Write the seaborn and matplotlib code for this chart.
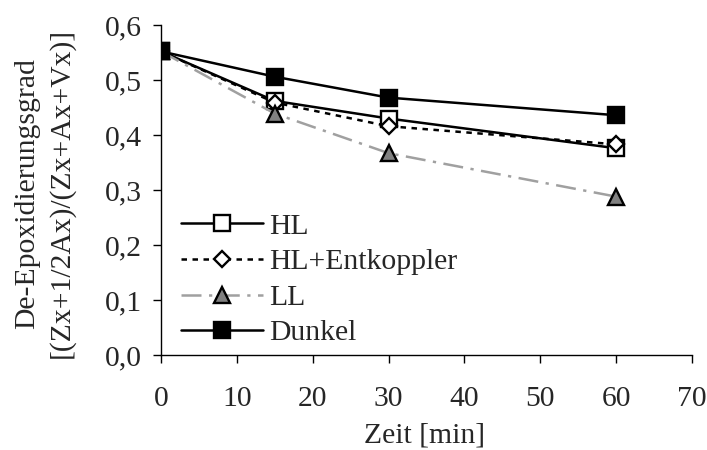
import pandas as pd
import matplotlib.pyplot as plt
import seaborn as sns

# Data
zeit = [0, 15, 30, 60]
hl = [0.552, 0.462, 0.430, 0.376]
hl_entkoppler = [0.552, 0.459, 0.416, 0.383]
ll = [0.552, 0.439, 0.367, 0.288]
dunkel = [0.552, 0.506, 0.468, 0.436]

series_names = ['HL', 'HL+Entkoppler', 'LL', 'Dunkel']
y_ticks = [0.0, 0.1, 0.2, 0.3, 0.4, 0.5, 0.6]
x_ticks = [0, 10, 20, 30, 40, 50, 60, 70]

styles = {
    'HL': dict(color='black', linestyle='-', marker='s',
               markerfacecolor='white', markeredgecolor='black'),
    'HL+Entkoppler': dict(color='black', linestyle=(0, (2.2, 2.2)), marker='D',
                          markerfacecolor='white', markeredgecolor='black',
                          markersize=8.5),
    'LL': dict(color='#a0a0a0', linestyle=(0, (8, 3, 1.3, 3)), marker='^',
               markerfacecolor='#808080', markeredgecolor='black',
               markersize=12),
    'Dunkel': dict(color='black', linestyle='-', marker='s',
                   markerfacecolor='black', markeredgecolor='black'),
}

df = pd.DataFrame({
    'Zeit': zeit * 4,
    'Wert': hl + hl_entkoppler + ll + dunkel,
    'Serie': [n for n in series_names for _ in zeit],
})

sns.set_style('white')
plt.rcParams['font.family'] = ['Liberation Serif', 'DejaVu Serif']
FS = 21.3

fig = plt.figure(figsize=(7.07, 4.5), dpi=100)
ax = fig.add_axes([0.2277, 0.2111, 0.751, 0.7333])

for name in series_names:
    sub = df[df['Serie'] == name]
    kw = dict(styles[name])
    kw.setdefault('markersize', 11)
    sns.lineplot(data=sub, x='Zeit', y='Wert', ax=ax, label=name,
                 linewidth=1.8, markeredgewidth=1.7, **kw)

ax.set_xlim(0, 70)
ax.set_ylim(0, 0.6)
ax.set_xticks(x_ticks)
ax.set_yticks(y_ticks)
ax.set_yticklabels([f'{v:.1f}'.replace('.', ',') for v in y_ticks])
ax.tick_params(axis='both', direction='out', length=6, width=1,
               labelsize=FS, color='black', left=True, bottom=True)
ax.tick_params(axis='x', pad=16)
ax.tick_params(axis='y', pad=8)

for side in ['top', 'right']:
    ax.spines[side].set_visible(False)
for side in ['left', 'bottom']:
    ax.spines[side].set_color('black')
    ax.spines[side].set_linewidth(1)

ax.set_xlabel('Zeit [min]', fontsize=FS)
ax.set_ylabel('De-Epoxidierungsgrad\n[(Zx+1/2Ax)/(Zx+Ax+Vx)]', fontsize=FS,
              linespacing=1.4)
ax.xaxis.set_label_coords(0.497, -0.206)
ax.yaxis.set_label_coords(-0.162, 0.49)

ax.legend(loc='lower left', frameon=False, fontsize=FS, handlelength=2.77,
          handletextpad=0.2, labelspacing=0.3, borderaxespad=0.0,
          bbox_to_anchor=(0.015, -0.01))

plt.savefig('out.png', dpi=100)
